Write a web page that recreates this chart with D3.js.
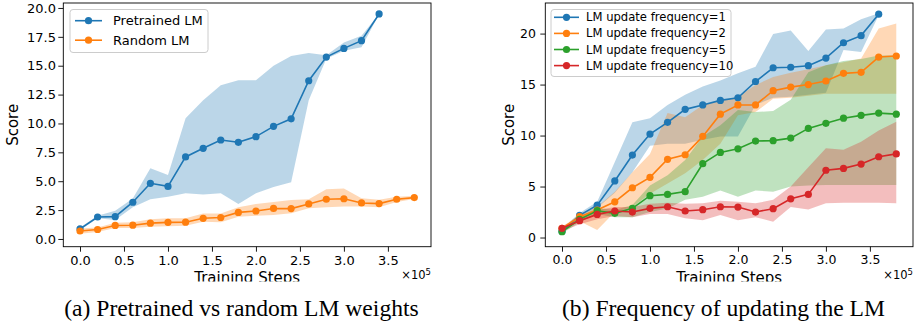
<!DOCTYPE html>
<html><head><meta charset="utf-8">
<script src="https://cdn.jsdelivr.net/npm/d3@7"></script>
<style>
body{margin:0;background:#fff}
svg{display:block}
text{font-family:"DejaVu Sans",sans-serif}
text.cap{font-family:"Liberation Serif","Times New Roman",serif}
</style></head>
<body><svg id="c" width="916" height="324"></svg>
<script>
// ---------- data (x in units of 1e5 training steps) ----------
const steps = [0,0.2,0.4,0.6,0.8,1.0,1.2,1.4,1.6,1.8,2.0,2.2,2.4,2.6,2.8,3.0,3.2,3.4,3.6,3.8];
const xTicks = [0,0.5,1.0,1.5,2.0,2.5,3.0,3.5];

// Panel (a)
const pretrainedMean = [0.87,1.9,1.93,3.18,4.82,4.55,7.1,7.85,8.57,8.37,8.86,9.75,10.4,13.7,15.75,16.5,17.17,19.48];
const pretrainedLow  = [0.75,1.8,1.65,2.75,3.44,3.66,3.95,3.85,3.95,3.03,3.95,4.5,4.9,12.0,15.6,16.3,16.6,19.45];
const pretrainedHigh = [1.0,2.0,2.45,3.5,6.12,5.54,10.45,12.0,13.3,13.75,13.75,15.0,15.85,16.1,15.9,17.0,17.6,19.5];
const randomMean = [0.69,0.82,1.17,1.19,1.37,1.44,1.45,1.79,1.86,2.3,2.42,2.64,2.63,3.03,3.44,3.48,3.12,3.06,3.44,3.58];
const randomLow  = [0.45,0.6,0.95,0.95,1.05,1.1,1.15,1.5,1.45,1.93,2.0,2.08,2.22,2.66,2.74,2.8,2.8,2.75,3.2,3.45];
const randomHigh = [0.9,1.0,1.4,1.45,1.7,1.8,1.8,2.2,2.2,2.74,3.03,3.2,3.38,3.43,4.3,4.36,3.52,3.4,3.65,3.72];
const yTicksA = [0,2.5,5,7.5,10,12.5,15,17.5,20];
const namesA = ["Pretrained LM","Random LM"];

// Panel (b)
const freq1Mean = [0.6,2.17,3.17,5.55,8.09,10.15,11.3,12.57,13.0,13.45,13.7,15.3,16.65,16.7,16.85,17.6,19.1,19.8,21.9];
const freq1Low  = [0.4,1.9,2.9,4.4,6.4,9.0,9.2,9.2,9.6,9.9,9.9,13.0,13.7,13.8,14.0,14.2,18.4,18.2,21.8];
const freq1High = [0.8,2.4,3.5,7.4,11.3,11.7,13.0,14.0,14.8,15.4,16.1,16.75,19.95,20.3,18.3,20.4,20.5,21.4,22.0];
const freq2Mean = [0.9,2.04,2.7,3.5,4.88,5.9,7.67,8.12,9.92,12.1,13.0,13.0,14.4,14.75,15.0,15.35,16.1,16.2,17.7,17.8];
const freq2Low  = [0.7,1.6,0.75,2.5,3.0,4.3,5.3,6.3,7.6,9.2,12.0,12.3,13.6,13.7,13.9,14.1,14.1,14.1,14.1,14.1];
const freq2High = [1.0,2.3,3.0,4.5,6.4,8.2,12.2,11.8,13.0,13.4,13.8,14.95,15.75,16.15,16.5,16.9,17.2,17.55,20.5,21.0];
const freq5Mean = [0.57,1.78,2.63,2.37,2.86,4.1,4.23,4.5,7.24,8.35,8.7,9.46,9.5,9.75,10.7,11.2,11.7,11.98,12.2,12.1];
const freq5Low  = [0.4,1.5,2.3,2.0,2.0,2.5,2.85,3.7,4.0,4.6,4.0,4.6,4.5,5.0,5.1,5.15,5.15,5.15,5.15,5.15];
const freq5High = [0.8,2.0,2.9,2.7,3.2,5.1,6.1,7.6,9.9,11.0,12.5,12.3,12.4,13.5,16.2,16.9,17.3,17.5,17.85,17.85];
const freq10Mean = [0.9,1.65,2.27,2.6,2.5,2.86,3.02,2.6,2.73,3.02,2.99,2.5,2.83,3.8,4.23,6.6,6.78,7.2,7.92,8.2];
const freq10Low  = [0.6,1.3,1.8,2.1,2.0,2.3,2.3,1.9,1.7,2.2,1.7,2.0,1.55,3.0,2.76,3.35,3.4,3.4,3.4,3.35];
const freq10High = [1.1,2.0,2.7,3.0,3.0,3.3,3.4,3.3,3.35,3.6,3.5,3.35,3.7,5.0,6.9,8.75,8.6,9.4,10.5,11.35];
const yTicksB = [0,5,10,15,20];
const namesB = ["LM update frequency=1","LM update frequency=2","LM update frequency=5","LM update frequency=10"];

const colors = ["#1f77b4","#ff7f0e","#2ca02c","#d62728"];

const svg = d3.select("#c");

function panel(o){
  const g = svg.append("g");
  const x = d3.scaleLinear().domain([-0.19,3.99]).range([o.left,o.right]);
  const y = d3.scaleLinear().domain(o.yDomain).range([o.bottom,o.top]);
  const cid = "clip"+o.id;
  svg.append("clipPath").attr("id",cid).append("rect")
    .attr("x",o.left).attr("y",o.top).attr("width",o.right-o.left).attr("height",o.bottom-o.top);
  const plot = g.append("g").attr("clip-path",`url(#${cid})`);
  // fills (below lines)
  o.series.forEach((s,i)=>{
    const pts = s.mean.map((m,k)=>({x:steps[k],lo:s.low[k],hi:s.high[k]}));
    plot.append("path").datum(pts)
      .attr("d",d3.area().x(d=>x(d.x)).y0(d=>y(d.lo)).y1(d=>y(d.hi)))
      .attr("fill",colors[i]).attr("fill-opacity",0.3);
  });
  o.series.forEach((s,i)=>{
    const pts = s.mean.map((m,k)=>({x:steps[k],y:m}));
    plot.append("path").datum(pts)
      .attr("d",d3.line().x(d=>x(d.x)).y(d=>y(d.y)))
      .attr("fill","none").attr("stroke",colors[i]).attr("stroke-width",1.6);
    plot.selectAll(null).data(pts).enter().append("circle")
      .attr("cx",d=>x(d.x)).attr("cy",d=>y(d.y)).attr("r",3.6).attr("fill",colors[i]);
  });
  // axes
  const ax = g.append("g").attr("transform",`translate(0,${o.bottom})`)
    .call(d3.axisBottom(x).tickValues(xTicks).tickFormat(d3.format(".1f")).tickSize(5).tickSizeOuter(0).tickPadding(3.6));
  const ay = g.append("g").attr("transform",`translate(${o.left},0)`)
    .call(d3.axisLeft(y).tickValues(o.yTicks).tickFormat(o.yFmt).tickSize(5).tickSizeOuter(0).tickPadding(o.yPad));
  [ax,ay].forEach(a=>{
    a.select(".domain").remove();
    a.selectAll("text").attr("font-family","DejaVu Sans").attr("font-size",o.tickFont).attr("fill","#000");
    a.selectAll("line").attr("stroke","#000").attr("stroke-width",0.9);
  });
  g.append("rect").attr("x",o.left).attr("y",o.top).attr("width",o.right-o.left).attr("height",o.bottom-o.top)
    .attr("fill","none").attr("stroke","#000").attr("stroke-width",0.9);
  // labels
  g.append("text").attr("transform",`translate(${o.ylabX},${(o.top+o.bottom)/2}) rotate(-90)`)
    .attr("text-anchor","middle").attr("dominant-baseline","central").attr("font-size",15).text("Score");
  const lcid = "lclip"+o.id;
  svg.append("clipPath").attr("id",lcid).append("rect").attr("x",o.left).attr("y",0).attr("width",o.right-o.left).attr("height",281.5);
  g.append("text").attr("clip-path",`url(#${lcid})`).attr("x",(o.left+o.right)/2).attr("y",283)
    .attr("text-anchor","middle").attr("font-size",15).text("Training Steps");
  const off = g.append("text").attr("x",o.right).attr("y",279).attr("text-anchor","end").attr("font-size",11.5);
  off.append("tspan").text("×10");
  off.append("tspan").attr("dy",-4.5).attr("font-size",8.5).text("5");
  // legend
  const L = o.legend;
  g.append("rect").attr("x",L.x).attr("y",L.y).attr("width",L.w).attr("height",L.h).attr("rx",3)
    .attr("fill","#fff").attr("fill-opacity",0.8).attr("stroke","#cccccc").attr("stroke-width",1);
  o.names.forEach((n,i)=>{
    const cy = L.y0 + i*L.dy;
    g.append("line").attr("x1",L.lx1).attr("x2",L.lx2).attr("y1",cy).attr("y2",cy)
      .attr("stroke",colors[i]).attr("stroke-width",1.6);
    g.append("circle").attr("cx",(L.lx1+L.lx2)/2).attr("cy",cy).attr("r",3.6).attr("fill",colors[i]);
    g.append("text").attr("x",L.tx).attr("y",cy).attr("dominant-baseline","central")
      .attr("font-size",L.font).text(n);
  });
  // caption
  svg.append("text").attr("class","cap").attr("x",o.capX).attr("y",316).attr("text-anchor","middle")
    .attr("font-size",23.6).text(o.caption);
}

panel({
  id:"a", left:63.3, right:431, top:3, bottom:246.7, yDomain:[-0.67,20.43],
  yTicks:yTicksA, yFmt:d3.format(".1f"), yPad:2.3, tickFont:13, ylabX:13,
  series:[{mean:pretrainedMean,low:pretrainedLow,high:pretrainedHigh},{mean:randomMean,low:randomLow,high:randomHigh}],
  names:namesA,
  legend:{x:70,y:9.5,w:138,h:43,y0:20.7,dy:19.5,lx1:75,lx2:102,tx:113,font:13},
  caption:"(a) Pretrained vs random LM weights", capX:241.5
});
panel({
  id:"b", left:545.3, right:913, top:3, bottom:246.7, yDomain:[-0.9,23.0],
  yTicks:yTicksB, yFmt:d3.format("d"), yPad:4.3, tickFont:12.5, ylabX:508.5,
  series:[{mean:freq1Mean,low:freq1Low,high:freq1High},{mean:freq2Mean,low:freq2Low,high:freq2High},
          {mean:freq5Mean,low:freq5Low,high:freq5High},{mean:freq10Mean,low:freq10Low,high:freq10High}],
  names:namesB,
  legend:{x:551,y:9.5,w:180,h:67,y0:17.3,dy:16.1,lx1:554,lx2:579,tx:586,font:11.6},
  caption:"(b) Frequency of updating the LM", capX:723.5
});
</script>
</body></html>
